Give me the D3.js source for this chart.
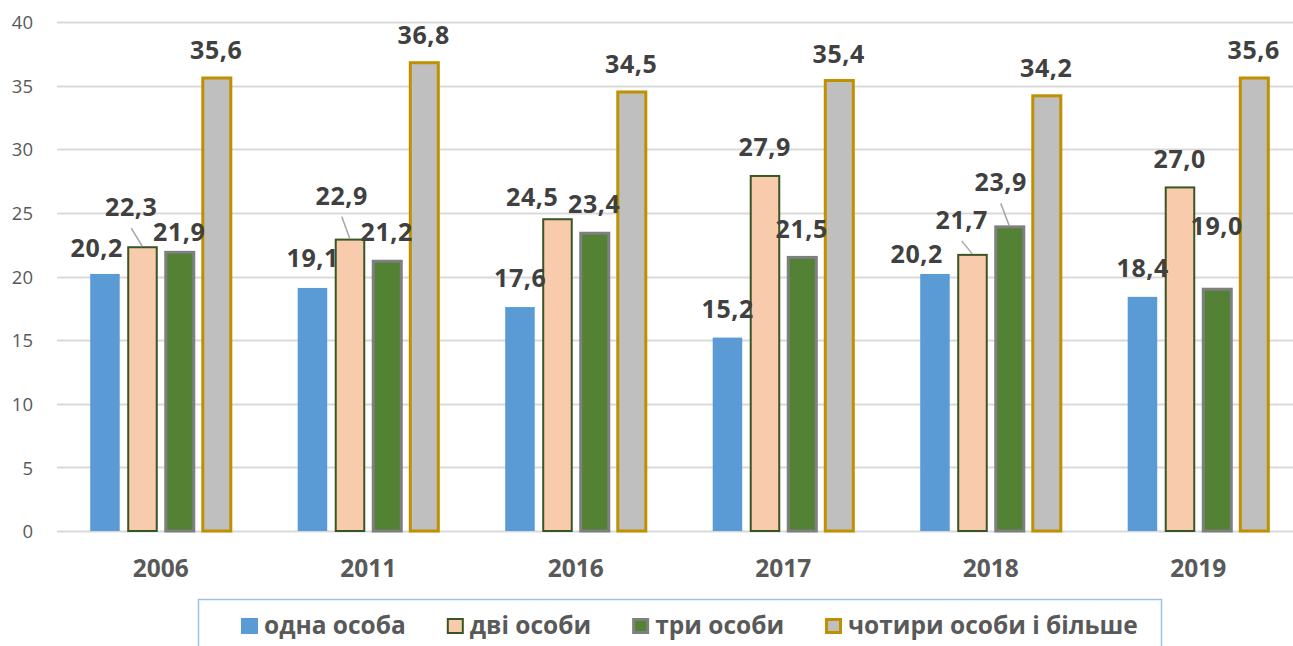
<!DOCTYPE html>
<html>
<head>
<meta charset="utf-8">
<script src="https://cdn.jsdelivr.net/npm/d3@7"></script>
<style>
  html, body { margin: 0; padding: 0; background: #ffffff; }
  svg { display: block; font-family: "Open Sans", "Noto Sans", sans-serif; }
</style>
</head>
<body>
<svg id="chart" width="1293" height="646"></svg>
<script>
// ---- data ----
const years = ["2006", "2011", "2016", "2017", "2018", "2019"];
const seriesNames = ["одна особа", "дві особи", "три особи", "чотири особи і більше"];
const onePerson   = [20.2, 19.1, 17.6, 15.2, 20.2, 18.4];
const twoPersons  = [22.3, 22.9, 24.5, 27.9, 21.7, 27.0];
const threePersons= [21.9, 21.2, 23.4, 21.5, 23.9, 19.0];
const fourPlus    = [35.6, 36.8, 34.5, 35.4, 34.2, 35.6];
const yTicks = [0, 5, 10, 15, 20, 25, 30, 35, 40];

// ---- layout (label nudges: [dx, distance above bar top, leader line]) ----
const labelNudge = [
  [[-8.5, 26, 0], [0, 30, 0], [0, 29, 0], [0, 29, 0], [-18.5, 20, 0], [0, 29, 0]],
  [[-11, 40, 1], [-8, 44, 1], [-25, 22, 0], [0, 28.5, 0], [-10.5, 35, 1], [0, 28.5, 0]],
  [[0, 20, 0], [0, 29, 0], [0, 29, 0], [0, 28.5, 0], [-8.5, 44.5, 1], [0, 63, 0]],
  [[0, 28, 0], [0, 28, 0], [0, 28, 0], [0, 27, 0], [0, 28, 0], [0, 28, 0]]
];
const styles = [
  { fill: "#5b9bd5", stroke: "none", sw: 0 },
  { fill: "#f8cbad", stroke: "#375623", sw: 2 },
  { fill: "#548235", stroke: "#7f7f7f", sw: 3 },
  { fill: "#bfbfbf", stroke: "#bf9000", sw: 3 }
];

const seriesValues = [onePerson, twoPersons, threePersons, fourPlus];
const rows = years.map((y, i) => ({ year: y, values: seriesValues.map(s => s[i]) }));

const svg = d3.select("#chart");
const W = 1293;

const x0 = d3.scaleBand().domain(years).range([57, 1302]).padding(0);
const x1 = d3.scaleBand().domain(d3.range(4)).range([0, x0.bandwidth()])
  .paddingInner(0.216).paddingOuter(0.91);
const y = d3.scaleLinear().domain([0, 40]).range([531, 22]);

// gridlines
svg.append("g").selectAll("line").data(yTicks).join("line")
  .attr("x1", 57).attr("x2", W)
  .attr("y1", d => Math.round(y(d)) + 0.5).attr("y2", d => Math.round(y(d)) + 0.5)
  .attr("stroke", "#d9d9d9").attr("stroke-width", 1.8);

// y axis labels
const yAxis = d3.axisLeft(y).tickValues(yTicks).tickSize(0).tickPadding(0);
const gy = svg.append("g").attr("transform", "translate(33,0)").call(yAxis);
gy.select(".domain").remove();
gy.selectAll("text").attr("font-family", "'Open Sans', sans-serif")
  .attr("font-size", 18.5).attr("fill", "#595959").attr("dy", "0.36em");

// bars
const groups = svg.append("g").selectAll("g").data(rows).join("g")
  .attr("transform", d => `translate(${x0(d.year)},0)`);

groups.selectAll("rect").data(d => d.values.map((v, k) => ({ v, k }))).join("rect")
  .attr("x", d => x1(d.k) + styles[d.k].sw / 2 - 0.5)
  .attr("width", d => x1.bandwidth() - styles[d.k].sw / 2 + 0.5)
  .attr("y", d => y(d.v))
  .attr("height", d => y(0) - y(d.v))
  .attr("fill", d => styles[d.k].fill)
  .attr("stroke", d => styles[d.k].stroke)
  .attr("stroke-width", d => styles[d.k].sw);

// x axis labels
const xAxis = d3.axisBottom(x0).tickSize(0).tickPadding(0);
const gx = svg.append("g").attr("transform", "translate(0,577)").call(xAxis);
gx.select(".domain").remove();
gx.selectAll("text").attr("font-family", "'Open Sans', sans-serif")
  .attr("font-size", 24.5).attr("font-weight", 700).attr("fill", "#595959").attr("dy", 0);

// data labels
const fmt = v => d3.format(".1f")(v).replace(".", ",");
const labelData = [];
rows.forEach((r, i) => r.values.forEach((v, k) => {
  const nd = labelNudge[k][i];
  const bx = x0(r.year) + x1(k) + x1.bandwidth() / 2;
  const by = y(v);
  labelData.push({ v, bx, by, cx: bx + nd[0], cy: by - nd[1], leader: nd[2] });
}));

svg.append("g").selectAll("line").data(labelData.filter(d => d.leader)).join("line")
  .attr("x1", d => d.cx).attr("y1", d => d.cy + 21)
  .attr("x2", d => d.bx).attr("y2", d => d.by - 1)
  .attr("stroke", "#a6a6a6").attr("stroke-width", 1.5);

svg.append("g").selectAll("text").data(labelData).join("text")
  .attr("x", d => d.cx).attr("y", d => d.cy + 9)
  .attr("text-anchor", "middle")
  .attr("font-size", 25).attr("font-weight", 700).attr("fill", "#404040")
  .attr("letter-spacing", 0.6)
  .text(d => fmt(d.v));

// legend
const leg = svg.append("g");
leg.append("rect").attr("x", 198.5).attr("y", 599.5).attr("width", 963).attr("height", 60)
  .attr("fill", "none").attr("stroke", "#9dc3e6").attr("stroke-width", 1.5);
let lx = 241;
seriesNames.forEach((name, k) => {
  const st = styles[k];
  leg.append("rect")
    .attr("x", lx + st.sw / 2).attr("y", 618 + st.sw / 2)
    .attr("width", 17 - st.sw).attr("height", 16 - st.sw)
    .attr("fill", st.fill).attr("stroke", st.stroke).attr("stroke-width", st.sw);
  const t = leg.append("text").attr("x", lx + 23).attr("y", 634)
    .attr("font-size", 24.5).attr("font-weight", 700).attr("fill", "#595959")
    .text(name);
  lx += 23 + t.node().getComputedTextLength() + 41;
});
</script>
</body>
</html>
